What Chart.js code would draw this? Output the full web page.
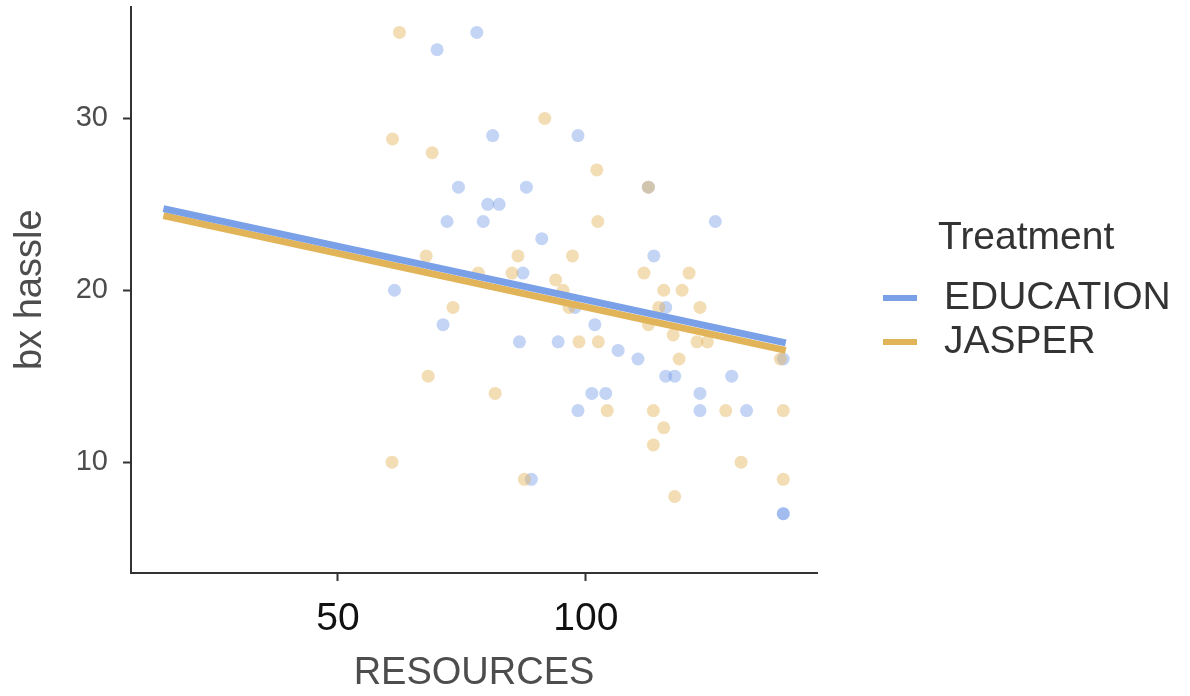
<!DOCTYPE html>
<html>
<head>
<meta charset="utf-8">
<script src="https://cdn.jsdelivr.net/npm/chart.js@4/dist/chart.umd.min.js"></script>
<style>
    body { margin: 0; background: #fff; }
    #wrap { width: 1190px; height: 696px; }
</style>
</head>
<body>
<div id="wrap"><canvas id="chart" width="1190" height="696"></canvas></div>
<script>
// values
const eduX = [70, 78, 81.2, 98.4, 74.3, 88, 80.2, 82.5, 72, 79.3, 91.1, 87.3, 61.4, 97.8, 71.2, 101.8, 86.6, 94.4,
    101.2, 98.4, 89, 112.6, 126.1, 113.7, 116.1, 106.5, 110.5, 139.8, 116.1, 117.9, 129.4, 104, 123, 123, 132.4, 139.8, 139.8];
const eduY = [34, 35, 29, 29, 26, 26, 25, 25, 24, 24, 23, 21, 20, 19, 18, 18, 17, 17,
    14, 13, 9, 26, 24, 22, 19, 16.5, 16, 16, 15, 15, 15, 14, 14, 13, 13, 7, 7];
const jasperX = [62.4, 91.7, 61, 69, 102.2, 102.4, 67.8, 86.3, 97.3, 78.3, 85.1, 93.9, 95.4, 96.6, 73.2, 98.6, 102.5,
    68.2, 81.7, 60.9, 87.6, 112.6, 111.7, 120.8, 115.7, 119.4, 114.7, 123, 112.6, 117.6, 122.4, 124.5, 118.8,
    139.2, 104.3, 113.6, 128.2, 139.8, 115.7, 113.6, 131.3, 139.8, 117.9];
const jasperY = [35, 30, 28.8, 28, 27, 24, 22, 22, 22, 21, 21, 20.6, 20, 19, 19, 17, 17,
    15, 14, 10, 9, 26, 21, 21, 20, 20, 19, 19, 18, 17.4, 17, 17, 16,
    16, 13, 13, 13, 13, 12, 11, 10, 9, 8];
// fitted lines, end points
const fitX = [14.8, 140.3];
const eduFitY = [24.75, 16.94];
const jasperFitY = [24.34, 16.5];

const xTicks = [50, 100];
const yTicks = [10, 20, 30];
const seriesNames = ['EDUCATION', 'JASPER'];
const legendTitle = 'Treatment';

const BLUE = '#7aa0e8';
const GOLD = '#e2b45a';
const FONT = '"Liberation Sans", Arial, sans-serif';

function pts(xs, ys) {
    return xs.map((x, i) => ({ x: x, y: ys[i] }));
}

function hexAlpha(hex, a) {
    const n = parseInt(hex.slice(1), 16);
    return 'rgba(' + (n >> 16) + ',' + ((n >> 8) & 255) + ',' + (n & 255) + ',' + a + ')';
}

const legendPlugin = {
    id: 'sideLegend',
    afterDraw(chart) {
        const ctx = chart.ctx;
        ctx.save();
        ctx.font = '39px ' + FONT;
        ctx.fillStyle = '#333';
        ctx.textBaseline = 'middle';
        ctx.textAlign = 'left';
        ctx.fillText(legendTitle, 938, 238);
        const rows = [298, 342];
        chart.data.datasets.filter((d) => d.isFit).forEach((d, i) => {
            ctx.strokeStyle = d.borderColor;
            ctx.lineWidth = 6;
            ctx.beginPath();
            ctx.moveTo(883, rows[i]);
            ctx.lineTo(917, rows[i]);
            ctx.stroke();
            ctx.fillStyle = '#333';
            ctx.fillText(d.label, 944, rows[i]);
        });
        ctx.restore();
    },
};

new Chart(document.getElementById('chart'), {
    type: 'scatter',
    data: {
        datasets: [
            {
                label: seriesNames[0], isFit: true, data: pts(fitX, eduFitY), showLine: true,
                borderColor: BLUE, borderWidth: 7, pointRadius: 0, order: 0,
            },
            {
                label: seriesNames[1], isFit: true, data: pts(fitX, jasperFitY), showLine: true,
                borderColor: GOLD, borderWidth: 7, pointRadius: 0, order: 1,
            },
            {
                label: seriesNames[0], data: pts(eduX, eduY), pointRadius: 6.5, borderWidth: 0,
                backgroundColor: hexAlpha(BLUE, 0.45), order: 3,
            },
            {
                label: seriesNames[1], data: pts(jasperX, jasperY), pointRadius: 6.5, borderWidth: 0,
                backgroundColor: hexAlpha(GOLD, 0.45), order: 2,
            },
        ],
    },
    options: {
        responsive: false,
        animation: false,
        layout: { padding: { left: 0, top: 6, right: 373, bottom: 0 } },
        plugins: { legend: { display: false }, tooltip: { enabled: false } },
        scales: {
            x: {
                type: 'linear',
                min: 8.27,
                max: 146.6,
                afterBuildTicks: (axis) => { axis.ticks = xTicks.map((v) => ({ value: v })); },
                afterFit: (s) => { s.height = 123; s.paddingLeft = 0; s.paddingRight = 0; },
                grid: { drawOnChartArea: false, drawTicks: true, tickLength: 8, tickColor: '#333', tickWidth: 2 },
                border: { color: '#333', width: 2 },
                ticks: { font: { family: FONT, size: 39, lineHeight: 1 }, color: '#111', padding: 19 },
                title: {
                    display: true, text: 'RESOURCES', color: '#4d4d4d',
                    font: { family: FONT, size: 38, lineHeight: 1.2 }, padding: { top: 0, bottom: 0 },
                },
            },
            y: {
                type: 'linear',
                min: 3.55,
                max: 36.51,
                afterBuildTicks: (axis) => { axis.ticks = yTicks.map((v) => ({ value: v })); },
                afterFit: (s) => { s.width = 131; s.paddingTop = 0; s.paddingBottom = 0; },
                grid: { drawOnChartArea: false, drawTicks: true, tickLength: 8, tickColor: '#333', tickWidth: 2 },
                border: { color: '#333', width: 2 },
                ticks: { font: { family: FONT, size: 29 }, color: '#4d4d4d', padding: 15 },
                title: {
                    display: true, text: 'bx hassle', color: '#4d4d4d',
                    font: { family: FONT, size: 38, lineHeight: 1.2 }, padding: { top: 8, bottom: 0 },
                },
            },
        },
    },
    plugins: [legendPlugin],
});
</script>
</body>
</html>
